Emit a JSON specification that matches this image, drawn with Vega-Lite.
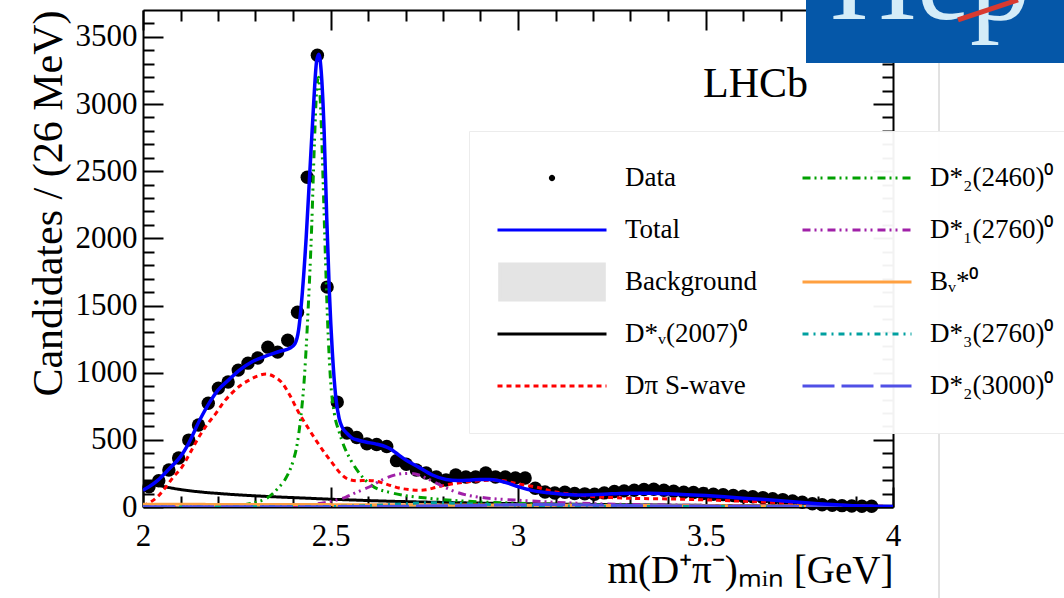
{
  "$schema": "https://vega.github.io/schema/vega-lite/v6.json",
  "width": 750,
  "height": 497,
  "autosize": {"type": "none"},
  "padding": {"left": 143, "top": 10, "right": 171, "bottom": 91},
  "background": "#ffffff",
  "config": {"view": {"stroke": null}, "font": "Liberation Serif"},
  "datasets": {
    "pts": [
      {"m": 2.016, "n": 150}, {"m": 2.042, "n": 195}, {"m": 2.069, "n": 275}, {"m": 2.095, "n": 365},
      {"m": 2.122, "n": 498}, {"m": 2.148, "n": 610}, {"m": 2.174, "n": 773}, {"m": 2.201, "n": 885},
      {"m": 2.227, "n": 930}, {"m": 2.254, "n": 1019}, {"m": 2.28, "n": 1071}, {"m": 2.306, "n": 1109},
      {"m": 2.333, "n": 1190}, {"m": 2.359, "n": 1153}, {"m": 2.386, "n": 1242}, {"m": 2.412, "n": 1450},
      {"m": 2.438, "n": 2455}, {"m": 2.465, "n": 3363}, {"m": 2.491, "n": 1637}, {"m": 2.518, "n": 781},
      {"m": 2.544, "n": 550}, {"m": 2.57, "n": 517}, {"m": 2.597, "n": 470}, {"m": 2.623, "n": 465},
      {"m": 2.65, "n": 450}, {"m": 2.676, "n": 345}, {"m": 2.702, "n": 318}, {"m": 2.729, "n": 275},
      {"m": 2.755, "n": 253}, {"m": 2.782, "n": 223}, {"m": 2.808, "n": 201}, {"m": 2.834, "n": 238},
      {"m": 2.861, "n": 223}, {"m": 2.887, "n": 223}, {"m": 2.914, "n": 253}, {"m": 2.94, "n": 223},
      {"m": 2.966, "n": 223}, {"m": 2.993, "n": 216}, {"m": 3.019, "n": 216}, {"m": 3.046, "n": 140},
      {"m": 3.072, "n": 112}, {"m": 3.098, "n": 104}, {"m": 3.125, "n": 110}, {"m": 3.151, "n": 100},
      {"m": 3.178, "n": 98}, {"m": 3.204, "n": 95}, {"m": 3.23, "n": 105}, {"m": 3.257, "n": 115},
      {"m": 3.283, "n": 120}, {"m": 3.31, "n": 125}, {"m": 3.336, "n": 130}, {"m": 3.362, "n": 132},
      {"m": 3.389, "n": 125}, {"m": 3.415, "n": 118}, {"m": 3.442, "n": 110}, {"m": 3.468, "n": 108},
      {"m": 3.494, "n": 100}, {"m": 3.521, "n": 95}, {"m": 3.547, "n": 92}, {"m": 3.574, "n": 85},
      {"m": 3.6, "n": 80}, {"m": 3.626, "n": 76}, {"m": 3.653, "n": 70}, {"m": 3.679, "n": 62},
      {"m": 3.706, "n": 55}, {"m": 3.732, "n": 45}, {"m": 3.758, "n": 35}, {"m": 3.785, "n": 24},
      {"m": 3.811, "n": 17}, {"m": 3.838, "n": 13}, {"m": 3.864, "n": 10}, {"m": 3.89, "n": 8},
      {"m": 3.917, "n": 6}, {"m": 3.943, "n": 5}
    ],
    "curves": [
      {"m": 2.0, "n": 125, "s": "Total"}, {"m": 2.016, "n": 150, "s": "Total"}, {"m": 2.04, "n": 200, "s": "Total"},
      {"m": 2.07, "n": 285, "s": "Total"}, {"m": 2.1, "n": 375, "s": "Total"}, {"m": 2.12, "n": 465, "s": "Total"},
      {"m": 2.15, "n": 640, "s": "Total"}, {"m": 2.18, "n": 790, "s": "Total"}, {"m": 2.2, "n": 870, "s": "Total"},
      {"m": 2.23, "n": 950, "s": "Total"}, {"m": 2.26, "n": 1025, "s": "Total"}, {"m": 2.29, "n": 1080, "s": "Total"},
      {"m": 2.32, "n": 1115, "s": "Total"}, {"m": 2.35, "n": 1145, "s": "Total"}, {"m": 2.37, "n": 1163, "s": "Total"},
      {"m": 2.39, "n": 1180, "s": "Total"}, {"m": 2.405, "n": 1215, "s": "Total"}, {"m": 2.415, "n": 1320, "s": "Total"},
      {"m": 2.425, "n": 1600, "s": "Total"}, {"m": 2.435, "n": 2000, "s": "Total"}, {"m": 2.445, "n": 2500, "s": "Total"},
      {"m": 2.455, "n": 3000, "s": "Total"}, {"m": 2.463, "n": 3320, "s": "Total"}, {"m": 2.469, "n": 3370, "s": "Total"},
      {"m": 2.475, "n": 3250, "s": "Total"}, {"m": 2.483, "n": 2800, "s": "Total"}, {"m": 2.49, "n": 2150, "s": "Total"},
      {"m": 2.497, "n": 1600, "s": "Total"}, {"m": 2.505, "n": 1150, "s": "Total"}, {"m": 2.514, "n": 820, "s": "Total"},
      {"m": 2.523, "n": 660, "s": "Total"}, {"m": 2.531, "n": 595, "s": "Total"}, {"m": 2.545, "n": 545, "s": "Total"},
      {"m": 2.557, "n": 515, "s": "Total"}, {"m": 2.575, "n": 497, "s": "Total"}, {"m": 2.594, "n": 484, "s": "Total"},
      {"m": 2.62, "n": 470, "s": "Total"}, {"m": 2.648, "n": 448, "s": "Total"}, {"m": 2.66, "n": 432, "s": "Total"},
      {"m": 2.675, "n": 402, "s": "Total"}, {"m": 2.7, "n": 352, "s": "Total"}, {"m": 2.736, "n": 295, "s": "Total"},
      {"m": 2.77, "n": 240, "s": "Total"}, {"m": 2.808, "n": 205, "s": "Total"}, {"m": 2.84, "n": 197, "s": "Total"},
      {"m": 2.87, "n": 200, "s": "Total"}, {"m": 2.9, "n": 205, "s": "Total"}, {"m": 2.923, "n": 205, "s": "Total"},
      {"m": 2.95, "n": 195, "s": "Total"}, {"m": 2.975, "n": 176, "s": "Total"}, {"m": 3.0, "n": 152, "s": "Total"},
      {"m": 3.04, "n": 122, "s": "Total"}, {"m": 3.08, "n": 106, "s": "Total"}, {"m": 3.12, "n": 95, "s": "Total"},
      {"m": 3.16, "n": 90, "s": "Total"}, {"m": 3.2, "n": 92, "s": "Total"}, {"m": 3.25, "n": 98, "s": "Total"},
      {"m": 3.3, "n": 102, "s": "Total"}, {"m": 3.35, "n": 102, "s": "Total"}, {"m": 3.4, "n": 98, "s": "Total"},
      {"m": 3.45, "n": 92, "s": "Total"}, {"m": 3.5, "n": 85, "s": "Total"}, {"m": 3.55, "n": 76, "s": "Total"},
      {"m": 3.6, "n": 66, "s": "Total"}, {"m": 3.65, "n": 57, "s": "Total"}, {"m": 3.7, "n": 46, "s": "Total"},
      {"m": 3.75, "n": 35, "s": "Total"}, {"m": 3.8, "n": 25, "s": "Total"}, {"m": 3.85, "n": 17, "s": "Total"},
      {"m": 3.9, "n": 10, "s": "Total"}, {"m": 3.95, "n": 6, "s": "Total"}, {"m": 4.0, "n": 3, "s": "Total"},

      {"m": 2.0, "n": 185, "s": "D*ᵥ(2007)⁰"}, {"m": 2.03, "n": 168, "s": "D*ᵥ(2007)⁰"}, {"m": 2.06, "n": 150, "s": "D*ᵥ(2007)⁰"},
      {"m": 2.1, "n": 130, "s": "D*ᵥ(2007)⁰"}, {"m": 2.15, "n": 113, "s": "D*ᵥ(2007)⁰"}, {"m": 2.2, "n": 101, "s": "D*ᵥ(2007)⁰"},
      {"m": 2.25, "n": 91, "s": "D*ᵥ(2007)⁰"}, {"m": 2.3, "n": 83, "s": "D*ᵥ(2007)⁰"}, {"m": 2.35, "n": 76, "s": "D*ᵥ(2007)⁰"},
      {"m": 2.4, "n": 70, "s": "D*ᵥ(2007)⁰"}, {"m": 2.45, "n": 64, "s": "D*ᵥ(2007)⁰"}, {"m": 2.5, "n": 58, "s": "D*ᵥ(2007)⁰"},
      {"m": 2.55, "n": 53, "s": "D*ᵥ(2007)⁰"}, {"m": 2.6, "n": 48, "s": "D*ᵥ(2007)⁰"}, {"m": 2.7, "n": 40, "s": "D*ᵥ(2007)⁰"},
      {"m": 2.8, "n": 34, "s": "D*ᵥ(2007)⁰"}, {"m": 2.9, "n": 29, "s": "D*ᵥ(2007)⁰"}, {"m": 3.0, "n": 25, "s": "D*ᵥ(2007)⁰"},
      {"m": 3.2, "n": 19, "s": "D*ᵥ(2007)⁰"}, {"m": 3.4, "n": 14, "s": "D*ᵥ(2007)⁰"}, {"m": 3.6, "n": 10, "s": "D*ᵥ(2007)⁰"},
      {"m": 3.8, "n": 7, "s": "D*ᵥ(2007)⁰"}, {"m": 4.0, "n": 5, "s": "D*ᵥ(2007)⁰"},

      {"m": 2.0, "n": 10, "s": "Dπ S-wave"}, {"m": 2.016, "n": 30, "s": "Dπ S-wave"}, {"m": 2.04, "n": 80, "s": "Dπ S-wave"},
      {"m": 2.061, "n": 149, "s": "Dπ S-wave"}, {"m": 2.08, "n": 220, "s": "Dπ S-wave"}, {"m": 2.104, "n": 298, "s": "Dπ S-wave"},
      {"m": 2.125, "n": 400, "s": "Dπ S-wave"}, {"m": 2.149, "n": 521, "s": "Dπ S-wave"}, {"m": 2.17, "n": 610, "s": "Dπ S-wave"},
      {"m": 2.195, "n": 699, "s": "Dπ S-wave"}, {"m": 2.215, "n": 780, "s": "Dπ S-wave"}, {"m": 2.237, "n": 848, "s": "Dπ S-wave"},
      {"m": 2.26, "n": 905, "s": "Dπ S-wave"}, {"m": 2.283, "n": 945, "s": "Dπ S-wave"}, {"m": 2.305, "n": 975, "s": "Dπ S-wave"},
      {"m": 2.328, "n": 990, "s": "Dπ S-wave"}, {"m": 2.35, "n": 970, "s": "Dπ S-wave"}, {"m": 2.371, "n": 923, "s": "Dπ S-wave"},
      {"m": 2.39, "n": 840, "s": "Dπ S-wave"}, {"m": 2.416, "n": 699, "s": "Dπ S-wave"}, {"m": 2.44, "n": 590, "s": "Dπ S-wave"},
      {"m": 2.461, "n": 498, "s": "Dπ S-wave"}, {"m": 2.48, "n": 420, "s": "Dπ S-wave"}, {"m": 2.505, "n": 327, "s": "Dπ S-wave"},
      {"m": 2.525, "n": 255, "s": "Dπ S-wave"}, {"m": 2.549, "n": 205, "s": "Dπ S-wave"}, {"m": 2.575, "n": 195, "s": "Dπ S-wave"},
      {"m": 2.594, "n": 198, "s": "Dπ S-wave"}, {"m": 2.62, "n": 193, "s": "Dπ S-wave"}, {"m": 2.638, "n": 180, "s": "Dπ S-wave"},
      {"m": 2.66, "n": 160, "s": "Dπ S-wave"}, {"m": 2.683, "n": 141, "s": "Dπ S-wave"}, {"m": 2.71, "n": 130, "s": "Dπ S-wave"},
      {"m": 2.735, "n": 125, "s": "Dπ S-wave"}, {"m": 2.755, "n": 128, "s": "Dπ S-wave"}, {"m": 2.78, "n": 145, "s": "Dπ S-wave"},
      {"m": 2.808, "n": 164, "s": "Dπ S-wave"}, {"m": 2.84, "n": 178, "s": "Dπ S-wave"}, {"m": 2.869, "n": 188, "s": "Dπ S-wave"},
      {"m": 2.9, "n": 196, "s": "Dπ S-wave"}, {"m": 2.93, "n": 200, "s": "Dπ S-wave"}, {"m": 2.957, "n": 198, "s": "Dπ S-wave"},
      {"m": 2.98, "n": 185, "s": "Dπ S-wave"}, {"m": 3.0, "n": 172, "s": "Dπ S-wave"}, {"m": 3.025, "n": 160, "s": "Dπ S-wave"},
      {"m": 3.048, "n": 149, "s": "Dπ S-wave"}, {"m": 3.08, "n": 125, "s": "Dπ S-wave"}, {"m": 3.1, "n": 112, "s": "Dπ S-wave"},
      {"m": 3.128, "n": 100, "s": "Dπ S-wave"}, {"m": 3.16, "n": 90, "s": "Dπ S-wave"}, {"m": 3.2, "n": 78, "s": "Dπ S-wave"},
      {"m": 3.25, "n": 70, "s": "Dπ S-wave"}, {"m": 3.3, "n": 65, "s": "Dπ S-wave"}, {"m": 3.35, "n": 62, "s": "Dπ S-wave"},
      {"m": 3.4, "n": 60, "s": "Dπ S-wave"}, {"m": 3.45, "n": 57, "s": "Dπ S-wave"}, {"m": 3.5, "n": 53, "s": "Dπ S-wave"},
      {"m": 3.55, "n": 48, "s": "Dπ S-wave"}, {"m": 3.6, "n": 43, "s": "Dπ S-wave"}, {"m": 3.65, "n": 38, "s": "Dπ S-wave"},
      {"m": 3.7, "n": 32, "s": "Dπ S-wave"}, {"m": 3.75, "n": 26, "s": "Dπ S-wave"}, {"m": 3.8, "n": 20, "s": "Dπ S-wave"},
      {"m": 3.85, "n": 14, "s": "Dπ S-wave"}, {"m": 3.9, "n": 9, "s": "Dπ S-wave"}, {"m": 3.95, "n": 6, "s": "Dπ S-wave"},
      {"m": 4.0, "n": 4, "s": "Dπ S-wave"},

      {"m": 2.0, "n": 0.5, "s": "D*₂(2460)⁰"}, {"m": 2.1, "n": 1, "s": "D*₂(2460)⁰"}, {"m": 2.2, "n": 3, "s": "D*₂(2460)⁰"},
      {"m": 2.25, "n": 10, "s": "D*₂(2460)⁰"}, {"m": 2.3, "n": 35, "s": "D*₂(2460)⁰"}, {"m": 2.33, "n": 65, "s": "D*₂(2460)⁰"},
      {"m": 2.36, "n": 140, "s": "D*₂(2460)⁰"}, {"m": 2.38, "n": 210, "s": "D*₂(2460)⁰"}, {"m": 2.4, "n": 340, "s": "D*₂(2460)⁰"},
      {"m": 2.41, "n": 450, "s": "D*₂(2460)⁰"}, {"m": 2.42, "n": 650, "s": "D*₂(2460)⁰"}, {"m": 2.43, "n": 950, "s": "D*₂(2460)⁰"},
      {"m": 2.44, "n": 1450, "s": "D*₂(2460)⁰"}, {"m": 2.45, "n": 2100, "s": "D*₂(2460)⁰"}, {"m": 2.457, "n": 2700, "s": "D*₂(2460)⁰"},
      {"m": 2.463, "n": 3100, "s": "D*₂(2460)⁰"}, {"m": 2.468, "n": 3200, "s": "D*₂(2460)⁰"}, {"m": 2.474, "n": 2950, "s": "D*₂(2460)⁰"},
      {"m": 2.48, "n": 2450, "s": "D*₂(2460)⁰"}, {"m": 2.486, "n": 1900, "s": "D*₂(2460)⁰"}, {"m": 2.492, "n": 1400, "s": "D*₂(2460)⁰"},
      {"m": 2.5, "n": 950, "s": "D*₂(2460)⁰"}, {"m": 2.51, "n": 700, "s": "D*₂(2460)⁰"}, {"m": 2.523, "n": 560, "s": "D*₂(2460)⁰"},
      {"m": 2.535, "n": 460, "s": "D*₂(2460)⁰"}, {"m": 2.55, "n": 370, "s": "D*₂(2460)⁰"}, {"m": 2.576, "n": 255, "s": "D*₂(2460)⁰"},
      {"m": 2.61, "n": 160, "s": "D*₂(2460)⁰"}, {"m": 2.664, "n": 105, "s": "D*₂(2460)⁰"}, {"m": 2.7, "n": 85, "s": "D*₂(2460)⁰"},
      {"m": 2.75, "n": 68, "s": "D*₂(2460)⁰"}, {"m": 2.8, "n": 55, "s": "D*₂(2460)⁰"}, {"m": 2.85, "n": 45, "s": "D*₂(2460)⁰"},
      {"m": 2.9, "n": 38, "s": "D*₂(2460)⁰"}, {"m": 3.0, "n": 28, "s": "D*₂(2460)⁰"}, {"m": 3.2, "n": 17, "s": "D*₂(2460)⁰"},
      {"m": 3.4, "n": 11, "s": "D*₂(2460)⁰"}, {"m": 3.6, "n": 7, "s": "D*₂(2460)⁰"}, {"m": 3.8, "n": 5, "s": "D*₂(2460)⁰"},
      {"m": 4.0, "n": 3, "s": "D*₂(2460)⁰"},

      {"m": 2.0, "n": 0, "s": "D*₁(2760)⁰"}, {"m": 2.2, "n": 1, "s": "D*₁(2760)⁰"}, {"m": 2.3, "n": 2, "s": "D*₁(2760)⁰"},
      {"m": 2.4, "n": 8, "s": "D*₁(2760)⁰"}, {"m": 2.45, "n": 18, "s": "D*₁(2760)⁰"}, {"m": 2.5, "n": 42, "s": "D*₁(2760)⁰"},
      {"m": 2.541, "n": 74, "s": "D*₁(2760)⁰"}, {"m": 2.57, "n": 110, "s": "D*₁(2760)⁰"}, {"m": 2.603, "n": 149, "s": "D*₁(2760)⁰"},
      {"m": 2.64, "n": 205, "s": "D*₁(2760)⁰"}, {"m": 2.683, "n": 245, "s": "D*₁(2760)⁰"}, {"m": 2.71, "n": 250, "s": "D*₁(2760)⁰"},
      {"m": 2.736, "n": 238, "s": "D*₁(2760)⁰"}, {"m": 2.76, "n": 210, "s": "D*₁(2760)⁰"}, {"m": 2.781, "n": 179, "s": "D*₁(2760)⁰"},
      {"m": 2.81, "n": 140, "s": "D*₁(2760)⁰"}, {"m": 2.843, "n": 104, "s": "D*₁(2760)⁰"}, {"m": 2.88, "n": 80, "s": "D*₁(2760)⁰"},
      {"m": 2.915, "n": 67, "s": "D*₁(2760)⁰"}, {"m": 2.96, "n": 57, "s": "D*₁(2760)⁰"}, {"m": 3.003, "n": 50, "s": "D*₁(2760)⁰"},
      {"m": 3.1, "n": 35, "s": "D*₁(2760)⁰"}, {"m": 3.2, "n": 25, "s": "D*₁(2760)⁰"}, {"m": 3.4, "n": 15, "s": "D*₁(2760)⁰"},
      {"m": 3.6, "n": 10, "s": "D*₁(2760)⁰"}, {"m": 3.8, "n": 6, "s": "D*₁(2760)⁰"}, {"m": 4.0, "n": 4, "s": "D*₁(2760)⁰"},

      {"m": 2.0, "n": 20, "s": "Bᵥ*⁰"}, {"m": 2.3, "n": 19, "s": "Bᵥ*⁰"}, {"m": 2.6, "n": 17, "s": "Bᵥ*⁰"},
      {"m": 2.9, "n": 15, "s": "Bᵥ*⁰"}, {"m": 3.2, "n": 12, "s": "Bᵥ*⁰"}, {"m": 3.5, "n": 9, "s": "Bᵥ*⁰"},
      {"m": 3.8, "n": 6, "s": "Bᵥ*⁰"}, {"m": 4.0, "n": 4, "s": "Bᵥ*⁰"},

      {"m": 2.0, "n": 0, "s": "D*₃(2760)⁰"}, {"m": 2.4, "n": 2, "s": "D*₃(2760)⁰"}, {"m": 2.5, "n": 4, "s": "D*₃(2760)⁰"},
      {"m": 2.6, "n": 10, "s": "D*₃(2760)⁰"}, {"m": 2.7, "n": 24, "s": "D*₃(2760)⁰"}, {"m": 2.77, "n": 32, "s": "D*₃(2760)⁰"},
      {"m": 2.85, "n": 26, "s": "D*₃(2760)⁰"}, {"m": 2.95, "n": 16, "s": "D*₃(2760)⁰"}, {"m": 3.1, "n": 8, "s": "D*₃(2760)⁰"},
      {"m": 3.3, "n": 5, "s": "D*₃(2760)⁰"}, {"m": 3.6, "n": 3, "s": "D*₃(2760)⁰"}, {"m": 4.0, "n": 1, "s": "D*₃(2760)⁰"},

      {"m": 2.0, "n": 1, "s": "D*₂(3000)⁰"}, {"m": 2.4, "n": 2, "s": "D*₂(3000)⁰"}, {"m": 2.6, "n": 4, "s": "D*₂(3000)⁰"},
      {"m": 2.8, "n": 9, "s": "D*₂(3000)⁰"}, {"m": 2.95, "n": 15, "s": "D*₂(3000)⁰"}, {"m": 3.05, "n": 18, "s": "D*₂(3000)⁰"},
      {"m": 3.15, "n": 16, "s": "D*₂(3000)⁰"}, {"m": 3.3, "n": 11, "s": "D*₂(3000)⁰"}, {"m": 3.5, "n": 7, "s": "D*₂(3000)⁰"},
      {"m": 3.8, "n": 4, "s": "D*₂(3000)⁰"}, {"m": 4.0, "n": 2, "s": "D*₂(3000)⁰"}
    ]
  },
  "resolve": {"axis": {"x": "independent", "y": "independent"}},
  "layer": [
    {
      "data": {"name": "pts"},
      "transform": [{"filter": "datum.m < 2.6"}],
      "mark": {"type": "point", "filled": true, "color": "#000000", "size": 180, "opacity": 1},
      "encoding": {
        "x": {"field": "m", "type": "quantitative", "scale": {"domain": [2, 4], "nice": false, "zero": false},
          "axis": {"orient": "bottom", "values": [2, 2.5, 3, 3.5, 4], "format": "~g", "ticks": false, "domain": false, "grid": false,
            "labelFont": "Liberation Serif", "labelFontSize": 31, "labelColor": "#000000", "labelPadding": 14, "labelFlush": false, "labelOverlap": false,
            "title": "m(D⁺π⁻)ₘᵢₙ [GeV]", "titleFont": "Liberation Serif", "titleFontSize": 39, "titleFontWeight": "normal", "titleColor": "#000000",
            "titleAnchor": "end", "titleAlign": "right", "titleX": 750, "titleY": 75, "titleBaseline": "alphabetic"}},
        "y": {"field": "n", "type": "quantitative", "scale": {"domain": [0, 3700], "nice": false, "zero": true},
          "axis": {"orient": "left", "values": [0, 500, 1000, 1500, 2000, 2500, 3000, 3500], "format": "d", "ticks": false, "domain": false, "grid": false,
            "labelFont": "Liberation Serif", "labelFontSize": 31, "labelColor": "#000000", "labelPadding": 6, "labelFlush": false, "labelOverlap": false,
            "title": "Candidates / (26 MeV)", "titleFont": "Liberation Serif", "titleFontSize": 42, "titleFontWeight": "normal", "titleColor": "#000000",
            "titleAngle": 270, "titleAnchor": "end", "titleAlign": "right", "titleBaseline": "alphabetic", "titleX": -82, "titleY": 0}}
      }
    },
    {
      "data": {"name": "pts"},
      "transform": [{"filter": "datum.m >= 2.6 && datum.m < 3.3"}],
      "mark": {"type": "point", "filled": true, "color": "#000000", "size": 180, "opacity": 1},
      "encoding": {
        "x": {"field": "m", "type": "quantitative", "scale": {"domain": [2, 4], "nice": false, "zero": false},
          "axis": {"orient": "top", "values": [2, 2.5, 3, 3.5, 4], "labels": false, "ticks": true, "tickSize": -20, "tickWidth": 2, "tickColor": "#000000",
            "domain": true, "domainColor": "#000000", "domainWidth": 2, "grid": false, "title": null}},
        "y": {"field": "n", "type": "quantitative", "scale": {"domain": [0, 3700], "nice": false, "zero": true},
          "axis": {"orient": "right", "values": [0, 500, 1000, 1500, 2000, 2500, 3000, 3500], "labels": false, "ticks": true, "tickSize": -20, "tickWidth": 2, "tickColor": "#000000",
            "domain": true, "domainColor": "#000000", "domainWidth": 2, "grid": false, "title": null}}
      }
    },
    {
      "data": {"name": "pts"},
      "transform": [{"filter": "datum.m >= 3.3"}],
      "mark": {"type": "point", "filled": true, "color": "#000000", "size": 180, "opacity": 1},
      "encoding": {
        "x": {"field": "m", "type": "quantitative", "scale": {"domain": [2, 4], "nice": false, "zero": false},
          "axis": {"orient": "top", "values": [2.1, 2.2, 2.3, 2.4, 2.6, 2.7, 2.8, 2.9, 3.1, 3.2, 3.3, 3.4, 3.6, 3.7, 3.8, 3.9], "labels": false, "ticks": true, "tickSize": -11, "tickWidth": 2, "tickColor": "#000000",
            "domain": false, "grid": false, "title": null}},
        "y": {"field": "n", "type": "quantitative", "scale": {"domain": [0, 3700], "nice": false, "zero": true},
          "axis": {"orient": "right", "values": [100, 200, 300, 400, 600, 700, 800, 900, 1100, 1200, 1300, 1400, 1600, 1700, 1800, 1900, 2100, 2200, 2300, 2400, 2600, 2700, 2800, 2900, 3100, 3200, 3300, 3400, 3600], "labels": false, "ticks": true, "tickSize": -11, "tickWidth": 2, "tickColor": "#000000",
            "domain": false, "grid": false, "title": null}}
      }
    },
    {
      "data": {"name": "curves"},
      "transform": [{"filter": "datum.s !== 'Total'"}],
      "mark": {"type": "line", "strokeWidth": 3, "interpolate": "monotone", "clip": true},
      "encoding": {
        "x": {"field": "m", "type": "quantitative", "scale": {"domain": [2, 4], "nice": false, "zero": false},
          "axis": {"orient": "bottom", "values": [2, 2.5, 3, 3.5, 4], "labels": false, "ticks": true, "tickSize": -20, "tickWidth": 2, "tickColor": "#000000",
            "domain": true, "domainColor": "#000000", "domainWidth": 2, "grid": false, "title": null}},
        "y": {"field": "n", "type": "quantitative", "scale": {"domain": [0, 3700], "nice": false, "zero": true},
          "axis": {"orient": "left", "values": [0, 500, 1000, 1500, 2000, 2500, 3000, 3500], "labels": false, "ticks": true, "tickSize": -20, "tickWidth": 2, "tickColor": "#000000",
            "domain": true, "domainColor": "#000000", "domainWidth": 2, "grid": false, "title": null}},
        "color": {"field": "s", "type": "nominal",
          "scale": {"domain": ["Data", "Total", "Background", "D*ᵥ(2007)⁰", "Dπ S-wave", "D*₂(2460)⁰", "D*₁(2760)⁰", "Bᵥ*⁰", "D*₃(2760)⁰", "D*₂(3000)⁰"],
            "range": ["#000000", "#0000ff", "#e4e4e4", "#000000", "#ff0000", "#00a000", "#a020a8", "#ffa040", "#00a0a0", "#5050e6"]},
          "legend": {"title": null, "orient": "none", "legendX": 326, "legendY": 121, "columns": 2, "direction": "vertical", "symbolType": "stroke", "symbolSize": 11881, "symbolStrokeWidth": 3,
            "labelFont": "Liberation Serif", "labelFontSize": 27, "labelColor": "#000000", "labelOffset": 17, "labelLimit": 400,
            "rowPadding": 12, "columnPadding": 44, "padding": 27, "fillColor": "rgba(255,255,255,0.95)", "strokeColor": "#ececec", "clipHeight": 40,
            "encode": {"symbols": {"update": {
              "shape": {"signal": "datum.value === 'Data' ? 'M0.03,0A0.03,0.03,0,1,1,-0.03,0A0.03,0.03,0,1,1,0.03,0Z' : (datum.value === 'Background' ? 'M-0.96,-0.33H0.96V0.33H-0.96Z' : 'stroke')"},
              "size": {"value": 11881},
              "strokeWidth": {"value": 3},
              "fill": {"signal": "datum.value === 'Data' ? '#000000' : (datum.value === 'Background' ? '#e4e4e4' : 'transparent')"}
            }}}}},
        "strokeDash": {"field": "s", "type": "nominal",
          "scale": {"domain": ["Data", "Total", "Background", "D*ᵥ(2007)⁰", "Dπ S-wave", "D*₂(2460)⁰", "D*₁(2760)⁰", "Bᵥ*⁰", "D*₃(2760)⁰", "D*₂(3000)⁰"],
            "range": [[1, 0], [1, 0], [1, 0], [1, 0], [5, 4], [8, 4, 2, 4, 2, 5], [8, 4, 2, 4, 2, 5], [1, 0], [6, 5, 2, 5], [32, 7]]},
          "legend": {"title": null, "orient": "none", "legendX": 326, "legendY": 121, "columns": 2, "direction": "vertical", "symbolType": "stroke", "symbolSize": 11881, "symbolStrokeWidth": 3,
            "labelFont": "Liberation Serif", "labelFontSize": 27, "labelColor": "#000000", "labelOffset": 17, "labelLimit": 400,
            "rowPadding": 12, "columnPadding": 44, "padding": 27, "fillColor": "rgba(255,255,255,0.95)", "strokeColor": "#ececec", "clipHeight": 40,
            "encode": {"symbols": {"update": {
              "shape": {"signal": "datum.value === 'Data' ? 'M0.03,0A0.03,0.03,0,1,1,-0.03,0A0.03,0.03,0,1,1,0.03,0Z' : (datum.value === 'Background' ? 'M-0.96,-0.33H0.96V0.33H-0.96Z' : 'stroke')"},
              "size": {"value": 11881},
              "strokeWidth": {"value": 3},
              "fill": {"signal": "datum.value === 'Data' ? '#000000' : (datum.value === 'Background' ? '#e4e4e4' : 'transparent')"}
            }}}}}
      }
    },
    {
      "data": {"name": "curves"},
      "transform": [{"filter": "datum.s === 'Total'"}],
      "mark": {"type": "line", "strokeWidth": 3.5, "color": "#0000ff", "interpolate": "monotone", "clip": true},
      "encoding": {
        "x": {"field": "m", "type": "quantitative", "scale": {"domain": [2, 4], "nice": false, "zero": false},
          "axis": {"orient": "bottom", "values": [2.1, 2.2, 2.3, 2.4, 2.6, 2.7, 2.8, 2.9, 3.1, 3.2, 3.3, 3.4, 3.6, 3.7, 3.8, 3.9], "labels": false, "ticks": true, "tickSize": -11, "tickWidth": 2, "tickColor": "#000000",
            "domain": false, "grid": false, "title": null}},
        "y": {"field": "n", "type": "quantitative", "scale": {"domain": [0, 3700], "nice": false, "zero": true},
          "axis": {"orient": "left", "values": [100, 200, 300, 400, 600, 700, 800, 900, 1100, 1200, 1300, 1400, 1600, 1700, 1800, 1900, 2100, 2200, 2300, 2400, 2600, 2700, 2800, 2900, 3100, 3200, 3300, 3400, 3600], "labels": false, "ticks": true, "tickSize": -11, "tickWidth": 2, "tickColor": "#000000",
            "domain": false, "grid": false, "title": null}}
      }
    },
    {
      "data": {"values": [{}]},
      "mark": {"type": "rect", "color": "#0557a8"},
      "encoding": {
        "x": {"datum": 3.768, "type": "quantitative", "scale": {"domain": [2, 4], "nice": false, "zero": false}, "axis": null},
        "x2": {"datum": 4.7},
        "y": {"datum": 3305, "type": "quantitative", "scale": {"domain": [0, 3700], "nice": false, "zero": true}, "axis": null},
        "y2": {"datum": 3950}
      }
    },
    {
      "data": {"values": [{}]},
      "mark": {"type": "text", "text": "Hep", "font": "Liberation Serif", "fontSize": 120, "color": "#d4ecf8", "align": "left", "baseline": "alphabetic"},
      "encoding": {
        "x": {"datum": 3.832, "type": "quantitative", "scale": {"domain": [2, 4], "nice": false, "zero": false}, "axis": null},
        "y": {"datum": 3633, "type": "quantitative", "scale": {"domain": [0, 3700], "nice": false, "zero": true}, "axis": null}
      }
    },
    {
      "data": {"values": [{}]},
      "mark": {"type": "rule", "color": "#d83a30", "strokeWidth": 5},
      "encoding": {
        "x": {"datum": 4.1733, "type": "quantitative", "scale": {"domain": [2, 4], "nice": false, "zero": false}, "axis": null},
        "x2": {"datum": 4.3333},
        "y": {"datum": 3626, "type": "quantitative", "scale": {"domain": [0, 3700], "nice": false, "zero": true}, "axis": null},
        "y2": {"datum": 3775}
      }
    },
    {
      "data": {"values": [{}]},
      "mark": {"type": "rule", "color": "#c4c4c4", "strokeWidth": 1},
      "encoding": {
        "x": {"datum": 4.1227, "type": "quantitative", "scale": {"domain": [2, 4], "nice": false, "zero": false}, "axis": null},
        "y": {"datum": -700, "type": "quantitative", "scale": {"domain": [0, 3700], "nice": false, "zero": true}, "axis": null},
        "y2": {"datum": 3305}
      }
    },
    {
      "data": {"values": [{}]},
      "mark": {"type": "text", "text": "LHCb", "font": "Liberation Serif", "fontSize": 42, "color": "#000000", "align": "left", "baseline": "alphabetic"},
      "encoding": {
        "x": {"datum": 3.4933, "type": "quantitative", "scale": {"domain": [2, 4], "nice": false, "zero": false}, "axis": null},
        "y": {"datum": 3052, "type": "quantitative", "scale": {"domain": [0, 3700], "nice": false, "zero": true}, "axis": null}
      }
    }
  ]
}
